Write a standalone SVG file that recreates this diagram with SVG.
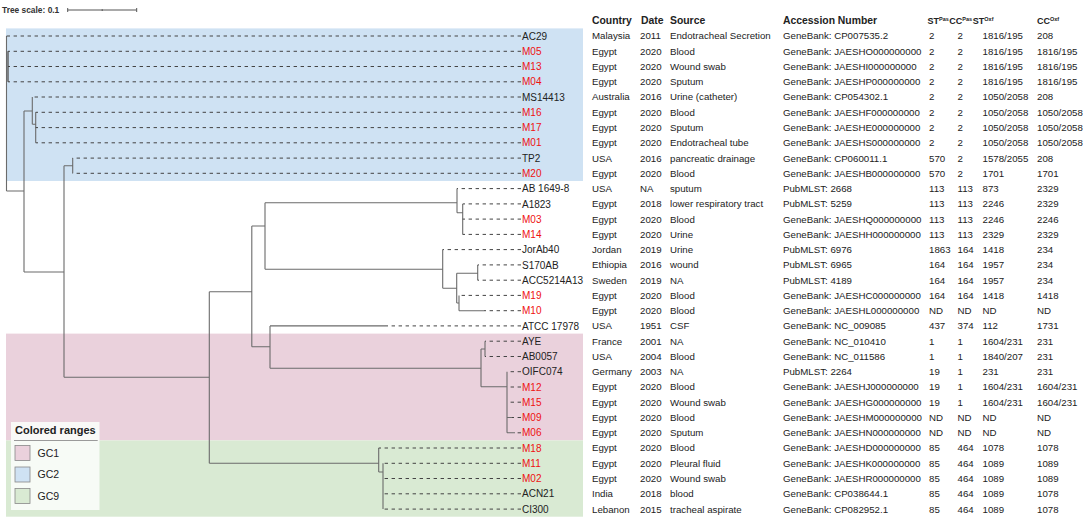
<svg xmlns="http://www.w3.org/2000/svg" width="1084" height="519" viewBox="0 0 1084 519">
<style>
text{font-family:"Liberation Sans",Arial,sans-serif}
.br{stroke:#6b6b6b;stroke-width:1.1;fill:none}
.lf{stroke:#444;stroke-width:1;stroke-dasharray:3.4 3.6;fill:none}
.lb{font-size:10px;fill:#222}
.r{fill:#ee1111}
.td{font-size:9.7px;fill:#222}
.th{font-size:10.4px;font-weight:bold;fill:#222}
.th2{font-size:9px;font-weight:bold;fill:#222}
.sup{font-size:5.5px}
.lg{font-size:10.5px;fill:#222}
</style>
<rect width="1084" height="519" fill="#fff"/>
<g id="bands">
<rect x="6" y="28.4" width="577" height="152.6" fill="#cfe2f3"/>
<rect x="6" y="333.6" width="577" height="106.8" fill="#ead1dc"/>
<rect x="6" y="440.4" width="577" height="76.3" fill="#d9ead3"/>
</g>
<g id="scale">
<text x="2" y="13" style="font-size:8.4px;font-weight:bold;fill:#333">Tree scale: 0.1</text>
<path d="M67.7 10H136.7M67.7 8V12M136.7 8V12M102.2 9.2V11" stroke="#555" stroke-width="1" fill="none"/>
</g>
<g id="connectors">
<path class="br" d="M6.5 36V191M8 51.3V81.8M6.5 191H24M24 111V272M24 111H32.3M32.3 97V124.3M32.3 124.3H35.7M35.7 112.3V142.8M24 272H64M64 165.7V377.3M64 165.7H72.7M72.7 158.1V173.3M64 377.3H209.3M209.3 291.7V463.3M209.3 291.7H251.8M251.8 226V346.7M251.8 226H265M265 202.7V269.3M265 202.7H457M457 188.6V212.7M457 212.7H462.7M462.7 203.9V234.4M265 269.3H442.7M442.7 249.6V288.3M442.7 288.3H456.7M456.7 273.3V303M456.7 273.3H477.7M477.7 264.9V280.2M456.7 303H459M459 295.4V310.7M459 310.7H484M251.8 346.7H270M270 325.9V368.3M270 325.9H385M270 368.3H481M481 349V386.7M481 349H485M485 341.2V356.5M481 386.7H507M507 371.7V432.8M507 417.5H512M507 432.8H515M209.3 463.3H378.7M378.7 448V472M378.7 472H383M383 463.3V509.1"/>
<path class="br" d="M8 51.3V81.8" stroke-width="1.8"/>
<path class="lf" d="M521 36H6.5M521 51.3H8M521 66.5H8M521 81.8H8M521 97H32.3M521 112.3H35.7M521 127.6H35.7M521 142.8H35.7M521 158.1H72.7M521 173.3H72.7M521 188.6H457M521 203.9H462.7M521 219.1H462.7M521 234.4H462.7M521 249.6H442.7M521 264.9H477.7M521 280.2H477.7M521 295.4H459M521 310.7H484M521 325.9H385M521 341.2H485M521 356.5H485M521 371.7H507M521 387H507M521 402.2H507M521 417.5H512M521 432.8H515M521 448H378.7M521 463.3H383M521 478.5H383M521 493.8H383M521 509.1H383"/>
</g>
<g id="leaves" class="lb">
<text x="522" y="39.6">AC29</text>
<text x="522" y="54.9" class="r">M05</text>
<text x="522" y="70.1" class="r">M13</text>
<text x="522" y="85.4" class="r">M04</text>
<text x="522" y="100.6">MS14413</text>
<text x="522" y="115.9" class="r">M16</text>
<text x="522" y="131.2" class="r">M17</text>
<text x="522" y="146.4" class="r">M01</text>
<text x="522" y="161.7">TP2</text>
<text x="522" y="176.9" class="r">M20</text>
<text x="522" y="192.2">AB 1649-8</text>
<text x="522" y="207.5">A1823</text>
<text x="522" y="222.7" class="r">M03</text>
<text x="522" y="238" class="r">M14</text>
<text x="522" y="253.2">JorAb40</text>
<text x="522" y="268.5">S170AB</text>
<text x="522" y="283.8">ACC5214A13</text>
<text x="522" y="299" class="r">M19</text>
<text x="522" y="314.3" class="r">M10</text>
<text x="522" y="329.5">ATCC 17978</text>
<text x="522" y="344.8">AYE</text>
<text x="522" y="360.1">AB0057</text>
<text x="522" y="375.3">OIFC074</text>
<text x="522" y="390.6" class="r">M12</text>
<text x="522" y="405.8" class="r">M15</text>
<text x="522" y="421.1" class="r">M09</text>
<text x="522" y="436.4" class="r">M06</text>
<text x="522" y="451.6" class="r">M18</text>
<text x="522" y="466.9" class="r">M11</text>
<text x="522" y="482.1" class="r">M02</text>
<text x="522" y="497.4">ACN21</text>
<text x="522" y="512.7">CI300</text>
</g>
<g id="header">
<text class="th" x="592" y="24">Country</text>
<text class="th" x="641" y="24">Date</text>
<text class="th" x="670" y="24">Source</text>
<text class="th" x="783" y="24">Accession Number</text>
<text class="th2" x="927.5" y="24">ST<tspan class="sup" dy="-3.5">Pas</tspan></text>
<text class="th2" x="949.3" y="24">CC<tspan class="sup" dy="-3.5">Pas</tspan></text>
<text class="th2" x="972.8" y="24">ST<tspan class="sup" dy="-3.5">Oxf</tspan></text>
<text class="th2" x="1037" y="24">CC<tspan class="sup" dy="-3.5">Oxf</tspan></text>
</g>
<g id="table" class="td">
<g id="c-country">
<text x="592" y="39.4">Malaysia</text>
<text x="592" y="54.7">Egypt</text>
<text x="592" y="69.9">Egypt</text>
<text x="592" y="85.2">Egypt</text>
<text x="592" y="100.4">Australia</text>
<text x="592" y="115.7">Egypt</text>
<text x="592" y="131">Egypt</text>
<text x="592" y="146.2">Egypt</text>
<text x="592" y="161.5">USA</text>
<text x="592" y="176.7">Egypt</text>
<text x="592" y="192">USA</text>
<text x="592" y="207.3">Egypt</text>
<text x="592" y="222.5">Egypt</text>
<text x="592" y="237.8">Egypt</text>
<text x="592" y="253">Jordan</text>
<text x="592" y="268.3">Ethiopia</text>
<text x="592" y="283.6">Sweden</text>
<text x="592" y="298.8">Egypt</text>
<text x="592" y="314.1">Egypt</text>
<text x="592" y="329.3">USA</text>
<text x="592" y="344.6">France</text>
<text x="592" y="359.9">USA</text>
<text x="592" y="375.1">Germany</text>
<text x="592" y="390.4">Egypt</text>
<text x="592" y="405.6">Egypt</text>
<text x="592" y="420.9">Egypt</text>
<text x="592" y="436.2">Egypt</text>
<text x="592" y="451.4">Egypt</text>
<text x="592" y="466.7">Egypt</text>
<text x="592" y="481.9">Egypt</text>
<text x="592" y="497.2">India</text>
<text x="592" y="512.5">Lebanon</text>
</g>
<g id="c-date">
<text x="640" y="39.4">2011</text>
<text x="640" y="54.7">2020</text>
<text x="640" y="69.9">2020</text>
<text x="640" y="85.2">2020</text>
<text x="640" y="100.4">2016</text>
<text x="640" y="115.7">2020</text>
<text x="640" y="131">2020</text>
<text x="640" y="146.2">2020</text>
<text x="640" y="161.5">2016</text>
<text x="640" y="176.7">2020</text>
<text x="640" y="192">NA</text>
<text x="640" y="207.3">2018</text>
<text x="640" y="222.5">2020</text>
<text x="640" y="237.8">2020</text>
<text x="640" y="253">2019</text>
<text x="640" y="268.3">2016</text>
<text x="640" y="283.6">2019</text>
<text x="640" y="298.8">2020</text>
<text x="640" y="314.1">2020</text>
<text x="640" y="329.3">1951</text>
<text x="640" y="344.6">2001</text>
<text x="640" y="359.9">2004</text>
<text x="640" y="375.1">2003</text>
<text x="640" y="390.4">2020</text>
<text x="640" y="405.6">2020</text>
<text x="640" y="420.9">2020</text>
<text x="640" y="436.2">2020</text>
<text x="640" y="451.4">2020</text>
<text x="640" y="466.7">2020</text>
<text x="640" y="481.9">2020</text>
<text x="640" y="497.2">2018</text>
<text x="640" y="512.5">2015</text>
</g>
<g id="c-source">
<text x="670" y="39.4">Endotracheal Secretion</text>
<text x="670" y="54.7">Blood</text>
<text x="670" y="69.9">Wound swab</text>
<text x="670" y="85.2">Sputum</text>
<text x="670" y="100.4">Urine (catheter)</text>
<text x="670" y="115.7">Blood</text>
<text x="670" y="131">Sputum</text>
<text x="670" y="146.2">Endotracheal tube</text>
<text x="670" y="161.5">pancreatic drainage</text>
<text x="670" y="176.7">Blood</text>
<text x="670" y="192">sputum</text>
<text x="670" y="207.3">lower respiratory tract</text>
<text x="670" y="222.5">Blood</text>
<text x="670" y="237.8">Urine</text>
<text x="670" y="253">Urine</text>
<text x="670" y="268.3">wound</text>
<text x="670" y="283.6">NA</text>
<text x="670" y="298.8">Blood</text>
<text x="670" y="314.1">Blood</text>
<text x="670" y="329.3">CSF</text>
<text x="670" y="344.6">NA</text>
<text x="670" y="359.9">Blood</text>
<text x="670" y="375.1">NA</text>
<text x="670" y="390.4">Blood</text>
<text x="670" y="405.6">Wound swab</text>
<text x="670" y="420.9">Blood</text>
<text x="670" y="436.2">Sputum</text>
<text x="670" y="451.4">Blood</text>
<text x="670" y="466.7">Pleural fluid</text>
<text x="670" y="481.9">Wound swab</text>
<text x="670" y="497.2">blood</text>
<text x="670" y="512.5">tracheal aspirate</text>
</g>
<g id="c-acc">
<text x="783" y="39.4">GeneBank: CP007535.2</text>
<text x="783" y="54.7">GeneBank: JAESHO000000000</text>
<text x="783" y="69.9">GeneBank: JAESHI000000000</text>
<text x="783" y="85.2">GeneBank: JAESHP000000000</text>
<text x="783" y="100.4">GeneBank: CP054302.1</text>
<text x="783" y="115.7">GeneBank: JAESHF000000000</text>
<text x="783" y="131">GeneBank: JAESHE000000000</text>
<text x="783" y="146.2">GeneBank: JAESHS000000000</text>
<text x="783" y="161.5">GeneBank: CP060011.1</text>
<text x="783" y="176.7">GeneBank: JAESHB000000000</text>
<text x="783" y="192">PubMLST: 2668</text>
<text x="783" y="207.3">PubMLST: 5259</text>
<text x="783" y="222.5">GeneBank: JAESHQ000000000</text>
<text x="783" y="237.8">GeneBank: JAESHH000000000</text>
<text x="783" y="253">PubMLST: 6976</text>
<text x="783" y="268.3">PubMLST: 6965</text>
<text x="783" y="283.6">PubMLST: 4189</text>
<text x="783" y="298.8">GeneBank: JAESHC000000000</text>
<text x="783" y="314.1">GeneBank: JAESHL000000000</text>
<text x="783" y="329.3">GeneBank: NC_009085</text>
<text x="783" y="344.6">GeneBank: NC_010410</text>
<text x="783" y="359.9">GeneBank: NC_011586</text>
<text x="783" y="375.1">PubMLST: 2264</text>
<text x="783" y="390.4">GeneBank: JAESHJ000000000</text>
<text x="783" y="405.6">GeneBank: JAESHG000000000</text>
<text x="783" y="420.9">GeneBank: JAESHM000000000</text>
<text x="783" y="436.2">GeneBank: JAESHN000000000</text>
<text x="783" y="451.4">GeneBank: JAESHD000000000</text>
<text x="783" y="466.7">GeneBank: JAESHK000000000</text>
<text x="783" y="481.9">GeneBank: JAESHR000000000</text>
<text x="783" y="497.2">GeneBank: CP038644.1</text>
<text x="783" y="512.5">GeneBank: CP082952.1</text>
</g>
<g id="c-stpas">
<text x="929" y="39.4">2</text>
<text x="929" y="54.7">2</text>
<text x="929" y="69.9">2</text>
<text x="929" y="85.2">2</text>
<text x="929" y="100.4">2</text>
<text x="929" y="115.7">2</text>
<text x="929" y="131">2</text>
<text x="929" y="146.2">2</text>
<text x="929" y="161.5">570</text>
<text x="929" y="176.7">570</text>
<text x="929" y="192">113</text>
<text x="929" y="207.3">113</text>
<text x="929" y="222.5">113</text>
<text x="929" y="237.8">113</text>
<text x="929" y="253">1863</text>
<text x="929" y="268.3">164</text>
<text x="929" y="283.6">164</text>
<text x="929" y="298.8">164</text>
<text x="929" y="314.1">ND</text>
<text x="929" y="329.3">437</text>
<text x="929" y="344.6">1</text>
<text x="929" y="359.9">1</text>
<text x="929" y="375.1">19</text>
<text x="929" y="390.4">19</text>
<text x="929" y="405.6">19</text>
<text x="929" y="420.9">ND</text>
<text x="929" y="436.2">ND</text>
<text x="929" y="451.4">85</text>
<text x="929" y="466.7">85</text>
<text x="929" y="481.9">85</text>
<text x="929" y="497.2">85</text>
<text x="929" y="512.5">85</text>
</g>
<g id="c-ccpas">
<text x="957.5" y="39.4">2</text>
<text x="957.5" y="54.7">2</text>
<text x="957.5" y="69.9">2</text>
<text x="957.5" y="85.2">2</text>
<text x="957.5" y="100.4">2</text>
<text x="957.5" y="115.7">2</text>
<text x="957.5" y="131">2</text>
<text x="957.5" y="146.2">2</text>
<text x="957.5" y="161.5">2</text>
<text x="957.5" y="176.7">2</text>
<text x="957.5" y="192">113</text>
<text x="957.5" y="207.3">113</text>
<text x="957.5" y="222.5">113</text>
<text x="957.5" y="237.8">113</text>
<text x="957.5" y="253">164</text>
<text x="957.5" y="268.3">164</text>
<text x="957.5" y="283.6">164</text>
<text x="957.5" y="298.8">164</text>
<text x="957.5" y="314.1">ND</text>
<text x="957.5" y="329.3">374</text>
<text x="957.5" y="344.6">1</text>
<text x="957.5" y="359.9">1</text>
<text x="957.5" y="375.1">1</text>
<text x="957.5" y="390.4">1</text>
<text x="957.5" y="405.6">1</text>
<text x="957.5" y="420.9">ND</text>
<text x="957.5" y="436.2">ND</text>
<text x="957.5" y="451.4">464</text>
<text x="957.5" y="466.7">464</text>
<text x="957.5" y="481.9">464</text>
<text x="957.5" y="497.2">464</text>
<text x="957.5" y="512.5">464</text>
</g>
<g id="c-stoxf">
<text x="982.5" y="39.4">1816/195</text>
<text x="982.5" y="54.7">1816/195</text>
<text x="982.5" y="69.9">1816/195</text>
<text x="982.5" y="85.2">1816/195</text>
<text x="982.5" y="100.4">1050/2058</text>
<text x="982.5" y="115.7">1050/2058</text>
<text x="982.5" y="131">1050/2058</text>
<text x="982.5" y="146.2">1050/2058</text>
<text x="982.5" y="161.5">1578/2055</text>
<text x="982.5" y="176.7">1701</text>
<text x="982.5" y="192">873</text>
<text x="982.5" y="207.3">2246</text>
<text x="982.5" y="222.5">2246</text>
<text x="982.5" y="237.8">2329</text>
<text x="982.5" y="253">1418</text>
<text x="982.5" y="268.3">1957</text>
<text x="982.5" y="283.6">1957</text>
<text x="982.5" y="298.8">1418</text>
<text x="982.5" y="314.1">ND</text>
<text x="982.5" y="329.3">112</text>
<text x="982.5" y="344.6">1604/231</text>
<text x="982.5" y="359.9">1840/207</text>
<text x="982.5" y="375.1">231</text>
<text x="982.5" y="390.4">1604/231</text>
<text x="982.5" y="405.6">1604/231</text>
<text x="982.5" y="420.9">ND</text>
<text x="982.5" y="436.2">ND</text>
<text x="982.5" y="451.4">1078</text>
<text x="982.5" y="466.7">1089</text>
<text x="982.5" y="481.9">1089</text>
<text x="982.5" y="497.2">1089</text>
<text x="982.5" y="512.5">1089</text>
</g>
<g id="c-ccoxf">
<text x="1037" y="39.4">208</text>
<text x="1037" y="54.7">1816/195</text>
<text x="1037" y="69.9">1816/195</text>
<text x="1037" y="85.2">1816/195</text>
<text x="1037" y="100.4">208</text>
<text x="1037" y="115.7">1050/2058</text>
<text x="1037" y="131">1050/2058</text>
<text x="1037" y="146.2">1050/2058</text>
<text x="1037" y="161.5">208</text>
<text x="1037" y="176.7">1701</text>
<text x="1037" y="192">2329</text>
<text x="1037" y="207.3">2329</text>
<text x="1037" y="222.5">2246</text>
<text x="1037" y="237.8">2329</text>
<text x="1037" y="253">234</text>
<text x="1037" y="268.3">234</text>
<text x="1037" y="283.6">234</text>
<text x="1037" y="298.8">1418</text>
<text x="1037" y="314.1">ND</text>
<text x="1037" y="329.3">1731</text>
<text x="1037" y="344.6">231</text>
<text x="1037" y="359.9">231</text>
<text x="1037" y="375.1">231</text>
<text x="1037" y="390.4">1604/231</text>
<text x="1037" y="405.6">1604/231</text>
<text x="1037" y="420.9">ND</text>
<text x="1037" y="436.2">ND</text>
<text x="1037" y="451.4">1078</text>
<text x="1037" y="466.7">1089</text>
<text x="1037" y="481.9">1089</text>
<text x="1037" y="497.2">1078</text>
<text x="1037" y="512.5">1078</text>
</g>
</g>
<g id="legend">
<rect x="11" y="422" width="88.5" height="88" fill="#fafcf9" fill-opacity="0.92"/>
<text x="15" y="434" style="font-size:11px;font-weight:bold;fill:#222">Colored ranges</text>
<path d="M14 440.5H97.7" stroke="#9a9a9a" stroke-width="1"/>
<g id="lg-gc1"><rect x="15" y="445.5" width="15" height="15" fill="#ead1dc" stroke="#888" stroke-width="0.8"/><text class="lg" x="37.5" y="456.8">GC1</text></g>
<g id="lg-gc2"><rect x="15" y="467" width="15" height="15" fill="#cfe2f3" stroke="#888" stroke-width="0.8"/><text class="lg" x="37.5" y="478.3">GC2</text></g>
<g id="lg-gc9"><rect x="15" y="488.5" width="15" height="15" fill="#d9ead3" stroke="#888" stroke-width="0.8"/><text class="lg" x="37.5" y="499.8">GC9</text></g>
</g>
</svg>
